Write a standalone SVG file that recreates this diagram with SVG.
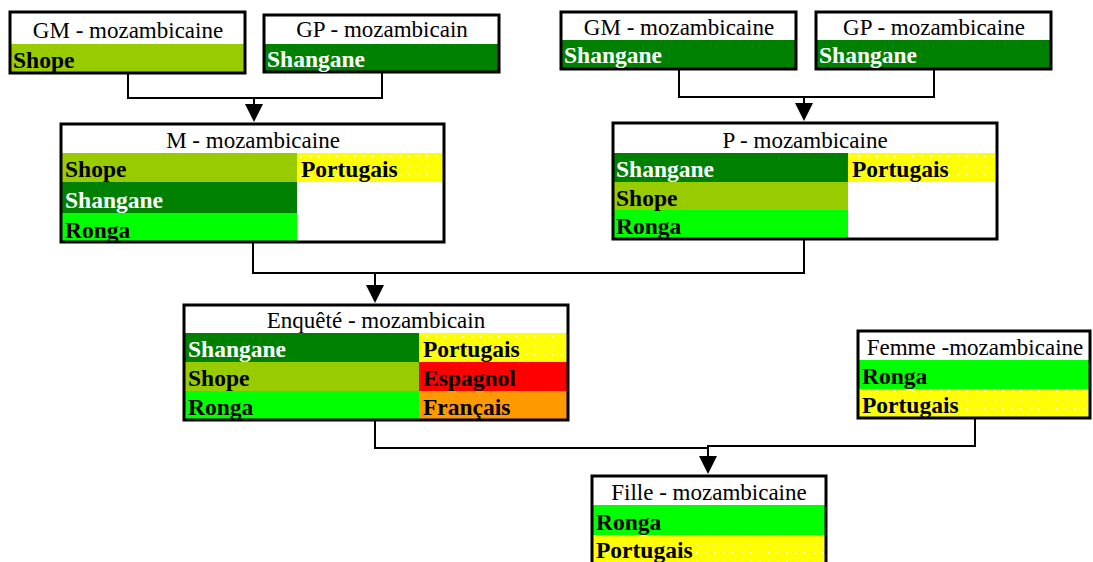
<svg xmlns="http://www.w3.org/2000/svg" width="1093" height="562" viewBox="0 0 1093 562">
<defs>
<pattern id="dots" x="0" y="0" width="9" height="9" patternUnits="userSpaceOnUse">
<rect width="9" height="9" fill="#FFFF00"/>
<rect x="3" y="3" width="1.5" height="1.5" fill="#FFFFFF"/>
</pattern>
</defs>
<style>
.hd{font-family:"Liberation Serif","Times New Roman",serif;font-size:23px;fill:#000;text-anchor:middle}
.lb{font-family:"Liberation Serif","Times New Roman",serif;font-size:23.5px;font-weight:bold;fill:#000}
.lw{font-family:"Liberation Serif","Times New Roman",serif;font-size:23.5px;font-weight:bold;fill:#FFF}
.frame{fill:none;stroke:#000;stroke-width:3}
.hbg{fill:#FFF}
.dg{fill:#008000}
.lg{fill:#99CC00}
.bg{fill:#00FF00}
.ye{fill:url(#dots)}
.re{fill:#FF0000}
.or{fill:#FF9900}
.ln{fill:none;stroke:#000;stroke-width:2}
.ah{fill:#000}
</style>
<rect width="1093" height="562" fill="#FFF"/>

<g id="connectors">
<polyline class="ln" points="128,74 128,98 382,98 382,73"/>
<line class="ln" x1="254" y1="98" x2="254" y2="106"/>
<polygon class="ah" points="245,104 263,104 254,122"/>
<polyline class="ln" points="679,70 679,97 934,97 934,70"/>
<line class="ln" x1="804" y1="97" x2="804" y2="105"/>
<polygon class="ah" points="795,103 813,103 804,121"/>
<polyline class="ln" points="253,242 253,273 804,273 804,239"/>
<line class="ln" x1="375" y1="273" x2="375" y2="287"/>
<polygon class="ah" points="366,285 384,285 375,303"/>
<polyline class="ln" points="375,420 375,448 708,448"/>
<polyline class="ln" points="975,418 975,446 708,446 708,458"/>
<polygon class="ah" points="699,456 717,456 708,474"/>
</g>

<g id="gm-mozambicaine">
<rect class="hbg" x="10" y="12" width="235" height="32"/>
<rect class="lg" x="10" y="44" width="235" height="29"/>
<rect class="frame" x="10" y="12" width="235" height="61"/>
<text class="hd" x="128" y="38">GM - mozambicaine</text>
<text class="lb" x="13" y="68">Shope</text>
</g>

<g id="gp-mozambicain">
<rect class="hbg" x="264" y="15" width="235" height="29"/>
<rect class="dg" x="264" y="44" width="235" height="28"/>
<rect class="frame" x="264" y="15" width="235" height="57"/>
<text class="hd" x="382" y="37">GP - mozambicain</text>
<text class="lw" x="267" y="67">Shangane</text>
</g>

<g id="gm-mozambicaine-2">
<rect class="hbg" x="561" y="12" width="235" height="28"/>
<rect class="dg" x="561" y="40" width="235" height="29"/>
<rect class="frame" x="561" y="12" width="235" height="57"/>
<text class="hd" x="679" y="35">GM - mozambicaine</text>
<text class="lw" x="564" y="63">Shangane</text>
</g>

<g id="gp-mozambicaine">
<rect class="hbg" x="816" y="12" width="235" height="28"/>
<rect class="dg" x="816" y="40" width="235" height="29"/>
<rect class="frame" x="816" y="12" width="235" height="57"/>
<text class="hd" x="934" y="35">GP - mozambicaine</text>
<text class="lw" x="819" y="63">Shangane</text>
</g>

<g id="m-mozambicaine">
<rect class="hbg" x="61" y="124" width="383" height="118"/>
<rect class="lg" x="61" y="153" width="236" height="29"/>
<rect class="dg" x="61" y="182" width="236" height="31"/>
<rect class="bg" x="61" y="213" width="236" height="29"/>
<rect class="ye" x="297" y="153" width="147" height="29"/>
<rect class="frame" x="61" y="124" width="383" height="118"/>
<text class="hd" x="253" y="148">M - mozambicaine</text>
<text class="lb" x="65" y="177">Shope</text>
<text class="lw" x="65" y="208">Shangane</text>
<text class="lb" x="65" y="238">Ronga</text>
<text class="lb" x="301" y="177">Portugais</text>
</g>

<g id="p-mozambicaine">
<rect class="hbg" x="613" y="123" width="384" height="116"/>
<rect class="dg" x="613" y="153" width="235" height="29"/>
<rect class="lg" x="613" y="182" width="235" height="28"/>
<rect class="bg" x="613" y="210" width="235" height="28"/>
<rect class="ye" x="848" y="153" width="147" height="29"/>
<rect class="frame" x="613" y="123" width="384" height="116"/>
<text class="hd" x="805" y="148">P - mozambicaine</text>
<text class="lw" x="616" y="177">Shangane</text>
<text class="lb" x="616" y="206">Shope</text>
<text class="lb" x="616" y="234">Ronga</text>
<text class="lb" x="852" y="177">Portugais</text>
</g>

<g id="enquete-mozambicain">
<rect class="hbg" x="184" y="305" width="384" height="28"/>
<rect class="dg" x="184" y="333" width="235" height="29"/>
<rect class="lg" x="184" y="362" width="235" height="29"/>
<rect class="bg" x="184" y="391" width="235" height="29"/>
<rect class="ye" x="419" y="333" width="149" height="29"/>
<rect class="re" x="419" y="362" width="149" height="29"/>
<rect class="or" x="419" y="391" width="149" height="29"/>
<rect class="frame" x="184" y="305" width="384" height="115"/>
<text class="hd" x="376" y="328">Enquêté - mozambicain</text>
<text class="lw" x="188" y="357">Shangane</text>
<text class="lb" x="188" y="386">Shope</text>
<text class="lb" x="188" y="415">Ronga</text>
<text class="lb" x="423" y="357">Portugais</text>
<text class="lb" x="423" y="386">Espagnol</text>
<text class="lb" x="423" y="415">Français</text>
</g>

<g id="femme-mozambicaine">
<rect class="hbg" x="858" y="331" width="232" height="29"/>
<rect class="bg" x="858" y="360" width="232" height="29"/>
<rect class="ye" x="858" y="389" width="232" height="29"/>
<rect class="frame" x="858" y="331" width="232" height="87"/>
<text class="hd" x="975" y="355">Femme -mozambicaine</text>
<text class="lb" x="862" y="384">Ronga</text>
<text class="lb" x="862" y="413">Portugais</text>
</g>

<g id="fille-mozambicaine">
<rect class="hbg" x="592" y="476" width="234" height="29"/>
<rect class="bg" x="592" y="505" width="234" height="30"/>
<rect class="ye" x="592" y="535" width="234" height="30"/>
<rect class="frame" x="592" y="476" width="234" height="90"/>
<text class="hd" x="709" y="500">Fille - mozambicaine</text>
<text class="lb" x="596" y="530">Ronga</text>
<text class="lb" x="596" y="558">Portugais</text>
</g>
</svg>
